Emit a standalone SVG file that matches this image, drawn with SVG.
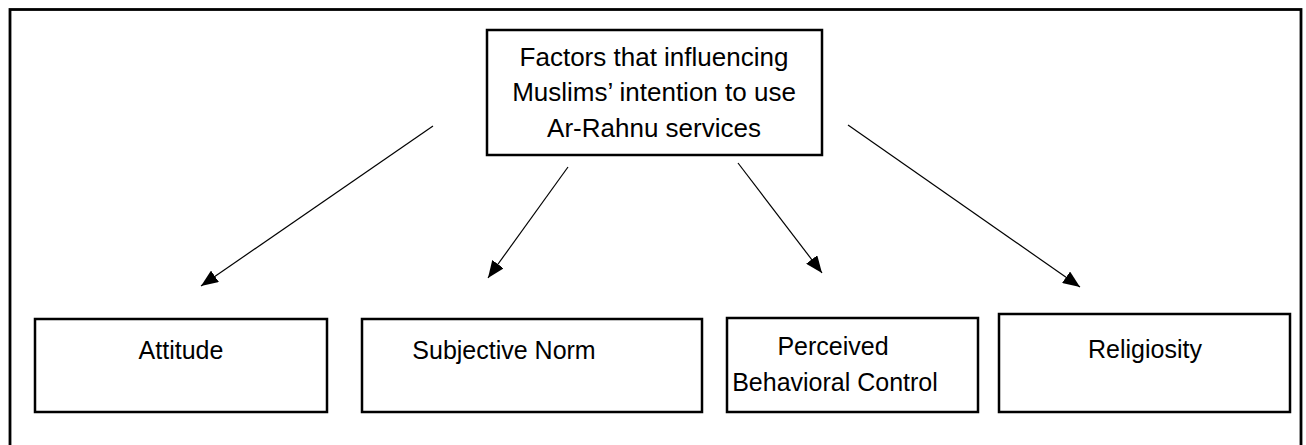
<svg xmlns="http://www.w3.org/2000/svg" width="1306" height="445" viewBox="0 0 1306 445">
<defs>
<style>
.box{fill:#fff;stroke:#000;stroke-width:2.5}
.frame{fill:none;stroke:#000;stroke-width:2.8}
.t{font-family:"Liberation Sans",Arial,sans-serif;font-size:25px;fill:#000;text-anchor:middle}
.top{font-size:26px}
.c{stroke:#000;stroke-width:1.2;fill:none}
</style>
<marker id="ah" markerUnits="userSpaceOnUse" markerWidth="18" markerHeight="14" viewBox="0 0 18 14" refX="17" refY="7" orient="auto">
<path d="M0,0 L17,7 L0,14 Z" fill="#000"/>
</marker>
</defs>
<rect width="1306" height="445" fill="#fff"/>
<rect class="frame" x="10" y="9.5" width="1291" height="450"/>
<g id="top">
<rect class="box" x="487" y="30" width="335" height="125"/>
<text class="t top" x="654" y="66">Factors that influencing</text>
<text class="t top" x="654" y="101">Muslims’ intention to use</text>
<text class="t top" x="654" y="137">Ar-Rahnu services</text>
</g>
<g id="attitude">
<rect class="box" x="35" y="319" width="292" height="93"/>
<text class="t" x="181" y="359">Attitude</text>
</g>
<g id="subjective">
<rect class="box" x="362" y="319" width="340" height="93"/>
<text class="t" x="504" y="359">Subjective Norm</text>
</g>
<g id="pbc">
<rect class="box" x="727" y="318" width="251" height="94"/>
<text class="t" x="833" y="355">Perceived</text>
<text class="t" x="835" y="391">Behavioral Control</text>
</g>
<g id="religiosity">
<rect class="box" x="999" y="314" width="291" height="98"/>
<text class="t" x="1145" y="358">Religiosity</text>
</g>
<g id="connectors">
<line class="c" x1="433" y1="126" x2="201" y2="286" marker-end="url(#ah)"/>
<line class="c" x1="568" y1="167" x2="488" y2="278" marker-end="url(#ah)"/>
<line class="c" x1="738" y1="163" x2="822" y2="273" marker-end="url(#ah)"/>
<line class="c" x1="848" y1="125" x2="1080" y2="287" marker-end="url(#ah)"/>
</g>
</svg>
